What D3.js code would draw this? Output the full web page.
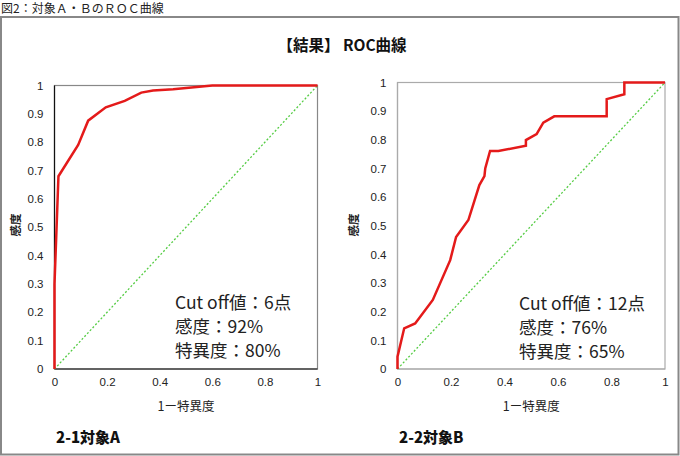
<!DOCTYPE html>
<html><head><meta charset="utf-8">
<script src="https://cdn.jsdelivr.net/npm/d3@7"></script>
<style>body{margin:0;background:#fff;} svg{display:block;}</style>
</head><body>
<svg id="c" width="680" height="456"></svg>
<script>
// ---- data ----
const fprA = [0, 0, 0.015, 0.09, 0.128, 0.195, 0.267, 0.33, 0.375, 0.451, 0.6, 1];
const tprA = [0, 0.3, 0.68, 0.79, 0.876, 0.923, 0.946, 0.975, 0.982, 0.987, 1, 1];
const fprB = [0, 0, 0.025, 0.066, 0.132, 0.197, 0.219, 0.265, 0.306, 0.325, 0.328, 0.346, 0.377, 0.48, 0.48, 0.52, 0.545, 0.586, 0.782, 0.782, 0.848, 0.848, 1];
const tprB = [0, 0.043, 0.142, 0.159, 0.241, 0.38, 0.461, 0.52, 0.642, 0.673, 0.70, 0.761, 0.761, 0.779, 0.799, 0.82, 0.86, 0.882, 0.882, 0.942, 0.959, 1, 1];
const xTicks = [0, 0.2, 0.4, 0.6, 0.8, 1];
const yTicks = [0, 0.1, 0.2, 0.3, 0.4, 0.5, 0.6, 0.7, 0.8, 0.9, 1];
const notesA = ["Cut off値：6点", "感度：92%", "特異度：80%"];
const notesB = ["Cut off値：12点", "感度：76%", "特異度：65%"];
const panelTitles = ["2-1対象A", "2-2対象B"];
const caption = "図2：対象Ａ・ＢのＲＯＣ曲線";
const mainTitle = "【結果】 ROC曲線";
const xTitle = "1ー特異度";
const yTitle = "感度";

const svg = d3.select("#c");
const JP = "'Noto Sans CJK JP', 'Noto Sans', sans-serif";
const LAT = "'Liberation Sans', Arial, sans-serif";

svg.append("text").attr("x", 1).attr("y", 13).attr("font-family", JP).attr("font-size", 12).attr("fill", "#222").text(caption);
svg.append("rect").attr("x", 1).attr("y", 17).attr("width", 677.5).attr("height", 437.5).attr("fill", "none").attr("stroke", "#888").attr("stroke-width", 2);
svg.append("text").attr("x", 342).attr("y", 51).attr("text-anchor", "middle").attr("font-family", JP).attr("font-weight", "bold").attr("font-size", 15.5).attr("fill", "#111").text(mainTitle);

function panel(cfg) {
  const x = d3.scaleLinear().domain([0, 1]).range([cfg.left, cfg.right]);
  const y = d3.scaleLinear().domain([0, 1]).range([cfg.bottom, cfg.top]);
  const g = svg.append("g");
  g.append("rect").attr("x", cfg.left).attr("y", cfg.top).attr("width", cfg.right - cfg.left).attr("height", cfg.bottom - cfg.top)
    .attr("fill", "none").attr("stroke", cfg.frame).attr("stroke-width", 1.2);
  g.append("line").attr("x1", cfg.left).attr("x2", cfg.left).attr("y1", cfg.top).attr("y2", cfg.bottom).attr("stroke", cfg.axisCol).attr("stroke-width", 1.2);
  g.append("line").attr("x1", cfg.left).attr("x2", cfg.right).attr("y1", cfg.bottom).attr("y2", cfg.bottom).attr("stroke", cfg.axisCol).attr("stroke-width", 1.2);
  const ya = g.append("g").attr("transform", `translate(${cfg.left - 10},0)`)
    .call(d3.axisLeft(y).tickValues(yTicks).tickSize(0).tickPadding(1).tickFormat(d3.format("~g")));
  const xa = g.append("g").attr("transform", `translate(0,${cfg.bottom + 8})`)
    .call(d3.axisBottom(x).tickValues(xTicks).tickSize(0).tickPadding(1).tickFormat(d3.format("~g")));
  [ya, xa].forEach(a => {
    a.select(".domain").remove();
    a.selectAll("text").attr("font-family", LAT).attr("font-size", 11.5).attr("fill", "#222");
  });
  g.append("line").attr("x1", x(0)).attr("y1", y(0)).attr("x2", x(1)).attr("y2", y(1))
    .attr("stroke", "#55cc44").attr("stroke-width", 1.3).attr("stroke-dasharray", "2,2");
  const pts = cfg.fpr.map((f, i) => [f, cfg.tpr[i]]);
  g.append("path").datum(pts).attr("d", d3.line().x(d => x(d[0])).y(d => y(d[1])))
    .attr("fill", "none").attr("stroke", "#e41a1a").attr("stroke-width", 2.5).attr("stroke-linejoin", "miter");
  g.append("text").attr("x", (cfg.left + cfg.right) / 2).attr("y", cfg.bottom + 42).attr("text-anchor", "middle")
    .attr("font-family", JP).attr("font-size", 12.5).attr("fill", "#222").text(xTitle);
  g.append("text").attr("transform", `translate(${cfg.ylabX},${cfg.ylabY}) rotate(-90)`).attr("text-anchor", "middle")
    .attr("font-family", JP).attr("font-weight", "bold").attr("font-size", 11.5).attr("fill", "#222").text(yTitle);
  cfg.notes.forEach((t, i) => {
    g.append("text").attr("x", cfg.noteX).attr("y", cfg.noteY + i * 24).attr("font-family", JP).attr("font-size", 17.5).attr("fill", "#222").text(t);
  });
  g.append("text").attr("x", cfg.titleX).attr("y", 443).attr("font-family", JP).attr("font-weight", 900).attr("font-size", 15).attr("fill", "#111").text(cfg.title);
}

panel({left: 54.5, right: 317.5, top: 85.5, bottom: 369, fpr: fprA, tpr: tprA, frame: "#888", axisCol: "#111",
  notes: notesA, noteX: 175, noteY: 309, title: panelTitles[0], titleX: 56, ylabX: 20, ylabY: 225});
panel({left: 397.5, right: 665, top: 82.5, bottom: 369, fpr: fprB, tpr: tprB, frame: "#aaa", axisCol: "#aaa",
  notes: notesB, noteX: 519, noteY: 310, title: panelTitles[1], titleX: 399, ylabX: 358, ylabY: 225});
</script>
</body></html>
